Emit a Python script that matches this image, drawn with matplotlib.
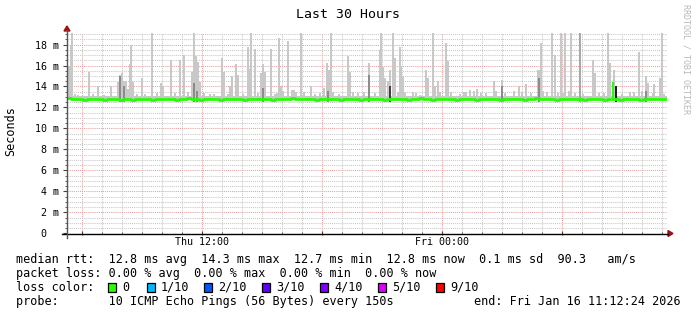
import numpy as np
import matplotlib.pyplot as plt
from matplotlib.lines import Line2D
from matplotlib.patches import Rectangle, Polygon

# ==============================
# DATA (hours since window start, ms)
# ==============================

spike_h = [0.05, 0.10, 0.15, 0.20, 0.25, 0.40, 0.55, 1.10, 1.30, 1.55,
           1.85, 2.20, 2.55, 2.65, 2.75, 2.85, 2.95, 3.05, 3.15, 3.20,
           3.30, 3.50, 3.75, 3.90, 4.25, 4.50, 4.70, 4.80, 5.20, 5.40,
           5.65, 5.85, 6.05, 6.25, 6.35, 6.45, 6.55, 6.65, 6.85, 7.15,
           7.35, 7.75, 7.85, 8.05, 8.15, 8.25, 8.45, 8.55, 8.80, 9.05,
           9.15, 9.20, 9.40, 9.55, 9.70, 9.80, 9.90, 10.20, 10.40, 10.50,
           10.60, 10.70, 10.80, 11.05, 11.25, 11.35, 11.45, 11.70, 11.85, 12.20,
           12.40, 12.65, 12.85, 13.00, 13.10, 13.20, 13.30, 13.60, 14.05, 14.15,
           14.30, 14.55, 14.85, 15.10, 15.40, 15.65, 15.70, 15.80, 15.90, 16.05,
           16.15, 16.30, 16.40, 16.55, 16.65, 16.70, 16.80, 16.90, 17.30, 17.45,
           17.65, 17.95, 18.05, 18.30, 18.40, 18.55, 18.65, 18.95, 19.05, 19.20,
           19.65, 19.85, 19.95, 20.15, 20.35, 20.50, 20.70, 20.95, 21.35, 21.45,
           21.75, 21.90, 22.35, 22.60, 22.75, 22.95, 23.20, 23.55, 23.65, 23.70,
           23.80, 24.00, 24.25, 24.40, 24.55, 24.70, 24.80, 24.90, 25.10, 25.20,
           25.40, 25.65, 25.80, 26.30, 26.40, 26.60, 26.85, 27.05, 27.15, 27.35,
           27.75, 28.15, 28.35, 28.60, 28.75, 28.95, 29.05, 29.30, 29.35, 29.65,
           29.75, 29.85]

spike_top = [13.5, 16.0, 16.0, 18.0, 19.1, 13.3, 13.2, 15.4, 13.3, 14.0,
             13.2, 14.0, 14.4, 15.1, 15.3, 14.5, 14.5, 13.8, 16.1, 18.0,
             14.4, 13.3, 14.8, 13.3, 19.1, 13.4, 14.3, 14.0, 16.5, 13.4,
             16.5, 17.0, 13.5, 15.4, 19.1, 16.9, 16.3, 14.4, 13.4, 13.3,
             13.3, 16.7, 15.4, 13.3, 14.0, 15.0, 16.1, 15.1, 13.3, 17.8,
             15.7, 19.1, 17.6, 13.4, 15.3, 16.1, 15.4, 17.6, 13.3, 13.4,
             18.6, 14.0, 13.6, 18.3, 13.7, 13.7, 13.5, 19.1, 13.5, 14.0,
             13.3, 13.4, 13.9, 16.2, 15.6, 19.1, 13.5, 13.3, 16.9, 15.4,
             13.5, 13.4, 13.5, 16.2, 13.4, 17.5, 19.1, 15.9, 14.8, 14.5,
             15.6, 19.1, 16.7, 13.5, 17.8, 15.9, 15.0, 13.5, 13.5, 13.4,
             13.2, 15.6, 14.8, 19.1, 14.0, 14.5, 13.5, 18.1, 16.4, 13.5,
             13.3, 13.5, 13.5, 13.7, 13.6, 13.8, 13.4, 13.4, 14.5, 13.6,
             14.6, 13.4, 13.6, 14.0, 13.5, 14.2, 13.4, 15.6, 15.6, 18.1,
             13.6, 13.5, 19.1, 17.0, 13.4, 19.1, 13.4, 19.1, 13.6, 19.1,
             13.4, 19.1, 13.3, 16.5, 15.3, 13.4, 13.4, 19.1, 16.2, 15.6,
             13.3, 13.5, 13.5, 17.3, 13.6, 15.0, 14.3, 13.4, 14.2, 14.8,
             19.1, 13.3]

dark_h = [2.65, 2.85, 6.35, 6.50, 9.80, 13.05, 15.10, 16.15, 21.75, 23.60, 25.65, 27.45, 28.95]
dark_top = [15.0, 14.0, 14.3, 13.6, 13.9, 13.6, 15.1, 14.0, 14.0, 14.8, 19.1, 14.0, 13.6]
dark_shade = ['#8c8c8c', '#8c8c8c', '#8c8c8c', '#8c8c8c', '#8c8c8c', '#8c8c8c',
              '#8c8c8c', '#404040', '#8c8c8c', '#8c8c8c', '#a8a8a8', '#202020', '#8c8c8c']

smoke_low = 12.7
smoke_base_top = 13.1

# median rtt, one value every 0.2 h
median = [
    12.9, 12.8, 12.8, 12.8, 12.7, 12.8, 12.8, 12.8, 12.8, 12.7,
    12.8, 12.8, 12.8, 12.7, 12.8, 12.8, 12.7, 12.8, 12.8, 12.8,
    12.8, 12.7, 12.8, 12.8, 12.8, 12.8, 12.8, 12.7, 12.8, 12.8,
    12.9, 12.8, 12.8, 12.7, 12.8, 12.8, 12.8, 12.8, 12.7, 12.8,
    12.8, 12.8, 12.8, 12.8, 12.7, 12.8, 12.8, 12.8, 12.8, 12.8,
    12.8, 12.7, 12.8, 12.8, 12.8, 12.8, 12.9, 12.8, 12.8, 12.8,
    12.8, 12.8, 12.7, 12.8, 12.8, 12.8, 12.8, 12.8, 12.7, 12.8,
    12.8, 12.8, 12.8, 12.7, 12.8, 12.8, 12.8, 12.8, 12.8, 12.7,
    12.8, 12.8, 12.8, 12.8, 12.8, 12.7, 12.8, 12.8, 12.9, 12.8,
    12.8, 12.7, 12.8, 12.8, 12.8, 12.8, 12.8, 12.7, 12.8, 12.8,
    12.8, 12.8, 12.7, 12.8, 12.8, 12.8, 12.8, 12.8, 12.7, 12.8,
    12.8, 12.8, 12.8, 12.8, 12.7, 12.8, 12.8, 12.9, 12.8, 12.8,
    12.8, 12.8, 12.7, 12.8, 12.8, 12.8, 12.8, 12.8, 12.8, 12.7,
    12.8, 12.8, 12.8, 12.8, 12.7, 12.8, 12.8, 12.8, 12.7, 12.8,
    12.8, 12.8, 12.8, 12.7, 12.8, 12.8, 12.8, 12.8, 12.8, 12.8,
]
step_h = 0.2

# short median excursion near the end
jump_h = 27.32
jump_top = 14.4

loss_labels = ["0", "1/10", "2/10", "3/10", "4/10", "5/10", "9/10"]
loss_colors = ["#26ff00", "#00b8ff", "#0059ff", "#5e00ff", "#7e00ff", "#dd00ff", "#ff0000"]

title = "Last 30 Hours"
x_labels = {6.75: "Thu 12:00", 18.75: "Fri 00:00"}

# ==============================
# FIGURE
# ==============================

W, H = 697, 315
MONO = "DejaVu Sans Mono"
fig = plt.figure(figsize=(W / 100, H / 100), dpi=100)


def fx(x):
    return x / W


def fy(y):
    return 1 - y / H


ax = fig.add_axes([fx(67), fy(233.3), 600 / W, 200.3 / H])
ax.set_xlim(0, 30)
ax.set_ylim(0, 19.1)

# grid
grid_gray = "#c8c8c8"
grid_red = "#e6a0a0"
dots = (0, (1, 1))
for h in np.arange(0.75, 30, 1.0):
    major = abs((h - 0.75) % 6) < 1e-6
    ax.axvline(h, color=grid_red if major else grid_gray, ls=dots, lw=0.75, zorder=0)
for v in np.arange(0.5, 19.1, 0.5):
    major = abs(v % 2) < 1e-6
    ax.axhline(v, color=grid_red if major else grid_gray, ls=dots, lw=0.75, zorder=0)

# smoke
ax.fill_between([0, 30], smoke_low, smoke_base_top, color="#c8c8c8", lw=0, zorder=1)
ax.bar(spike_h, np.array(spike_top) - smoke_low, bottom=smoke_low, width=0.1,
       color="#c8c8c8", linewidth=0, zorder=2)
ax.bar(dark_h, np.array(dark_top) - 12.5, bottom=12.5, width=0.08,
       color=dark_shade, linewidth=0, zorder=3)

# median
t = np.arange(len(median) + 1) * step_h
ax.step(t, median + [median[-1]], where="post", color="#22ff00", lw=2.0, zorder=4)
ax.vlines(jump_h, median[int(jump_h / step_h)], jump_top, color="#22ff00", lw=1.5, zorder=4)

# axes / ticks
for s in ax.spines.values():
    s.set_visible(False)
ax.set_yticks(np.arange(0, 19, 2))
ax.set_yticklabels(["0  "] + [f"{v} m" for v in range(2, 19, 2)], family=MONO, fontsize=7.2)
ax.set_yticks(np.arange(0.5, 19.1, 0.5), minor=True)
ax.set_xticks(np.arange(0.75, 30, 6))
ax.set_xticklabels([x_labels.get(h, "") for h in np.arange(0.75, 30, 6)], family=MONO, fontsize=7.2)
ax.set_xticks(np.arange(0.75, 30, 1.0), minor=True)
ax.tick_params(axis="y", which="major", length=3, width=0.8, pad=3, direction="out", color="#444444")
ax.tick_params(axis="y", which="minor", length=1.5, width=0.6, direction="out", color="#444444")
ax.tick_params(axis="x", which="major", length=2.5, width=0.8, pad=1.5, direction="inout", color="#444444")
ax.tick_params(axis="x", which="minor", length=1.5, width=0.6, direction="inout", color="#444444")

# axis lines with arrows
arrow_c = "#a01010"
fig.add_artist(Line2D([fx(62), fx(668)], [fy(233.5), fy(233.5)], color="black", lw=1.0))
fig.add_artist(Line2D([fx(67), fx(67)], [fy(238), fy(30)], color="#555555", lw=1.0))
fig.add_artist(Polygon([[fx(668), fy(230.5)], [fx(668), fy(236.5)], [fx(673), fy(233.5)]],
                       closed=True, color=arrow_c, transform=fig.transFigure))
fig.add_artist(Polygon([[fx(64), fy(31)], [fx(70), fy(31)], [fx(67), fy(26)]],
                       closed=True, color=arrow_c, transform=fig.transFigure))

# texts
fig.text(fx(348), fy(14), title, family=MONO, fontsize=9.5, ha="center", va="center")
fig.text(fx(11), fy(131), "Seconds", family=MONO, fontsize=8.5, rotation=90, ha="center", va="center")
fig.text(fx(686), fy(4), "RRDTOOL / TOBI OETIKER", family=MONO, fontsize=6, rotation=270,
         ha="center", va="top", color="#b8b8b8")

leg_fs = 8.5
fig.text(fx(16), fy(259.5),
         "median rtt:  12.8 ms avg  14.3 ms max  12.7 ms min  12.8 ms now  0.1 ms sd  90.3   am/s",
         family=MONO, fontsize=leg_fs, va="center")
fig.text(fx(16), fy(273.5), "packet loss: 0.00 % avg  0.00 % max  0.00 % min  0.00 % now",
         family=MONO, fontsize=leg_fs, va="center")
fig.text(fx(16), fy(287.5), "loss color:", family=MONO, fontsize=leg_fs, va="center")
box_x = [108, 147, 204, 262, 320, 378, 436]
for bx, lab, col in zip(box_x, loss_labels, loss_colors):
    fig.add_artist(Rectangle((fx(bx), fy(292)), 8 / W, 9 / H, facecolor=col,
                             edgecolor="black", lw=0.9, transform=fig.transFigure))
    fig.text(fx(bx + 14), fy(287.5), lab, family=MONO, fontsize=leg_fs, va="center")
fig.text(fx(16), fy(301.5), "probe:       10 ICMP Echo Pings (56 Bytes) every 150s",
         family=MONO, fontsize=leg_fs, va="center")
fig.text(fx(681), fy(301.5), "end: Fri Jan 16 11:12:24 2026",
         family=MONO, fontsize=leg_fs, va="center", ha="right")

fig.savefig("out.png", dpi=100)
